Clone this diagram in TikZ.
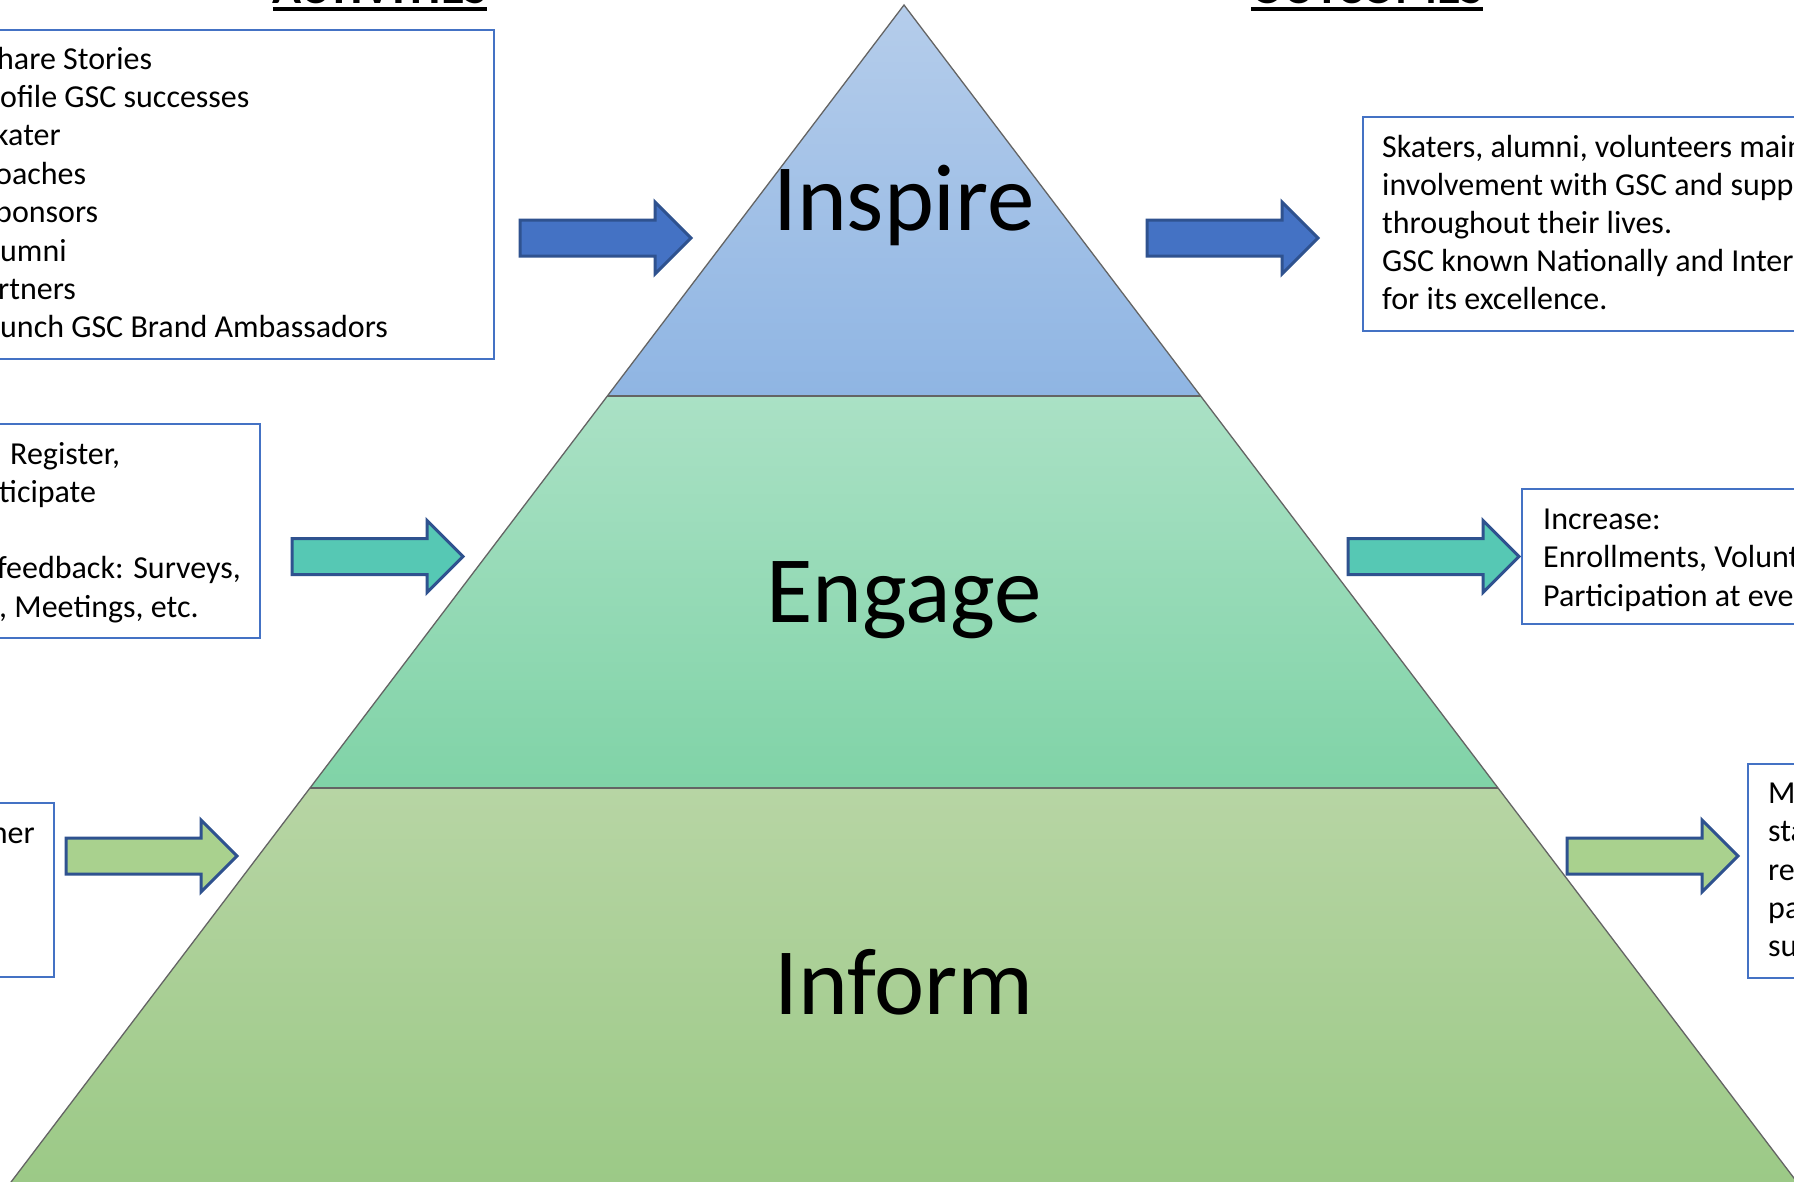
\documentclass[tikz,border=0pt]{standalone}
\usepackage{fontspec}
\setmainfont{Carlito}
\usetikzlibrary{calc}
\definecolor{inspT}{RGB}{181,205,235}
\definecolor{inspB}{RGB}{143,181,227}
\definecolor{engT}{RGB}{170,225,197}
\definecolor{engB}{RGB}{128,211,167}
\definecolor{infT}{RGB}{183,213,164}
\definecolor{infB}{RGB}{155,201,134}
\definecolor{edgegray}{RGB}{100,100,100}
\definecolor{boxblue}{RGB}{68,114,196}
\definecolor{arrblue}{RGB}{68,114,196}
\definecolor{arrteal}{RGB}{86,200,180}
\definecolor{arrgreen}{RGB}{169,209,142}
\definecolor{arredge}{RGB}{47,82,143}
\begin{document}
\begin{tikzpicture}[x=1pt,y=-1pt,
  band/.style={draw=edgegray, line width=1.3},
  txtbox/.style={draw=boxblue, line width=2},
  txtline/.style={anchor=base west, inner sep=0, font=\fontsize{32}{38}\selectfont},
  bigword/.style={anchor=base, inner sep=0, font=\fontsize{95}{110}\selectfont},
  header/.style={anchor=base, inner sep=0, font=\bfseries\fontsize{48}{56}\selectfont},
  arrowbody/.style={draw=arredge, line width=3, line join=miter},
  barrow/.pic={\path[pic actions] (0,-18) -- (135,-18) -- (135,-36) -- (171,0) -- (135,36) -- (135,18) -- (0,18) -- cycle;}
]
\useasboundingbox (0,0) rectangle (1794,1181);
\clip (0,0) rectangle (1794,1181);
\fill[white] (0,0) rectangle (1794,1181);

% pyramid
\coordinate (apex) at (904,5);
\coordinate (bl) at (5,1190);
\coordinate (br) at (1803,1190);
\coordinate (l1) at ($(apex)!0.32996!(bl)$);
\coordinate (r1) at ($(apex)!0.32996!(br)$);
\coordinate (l2) at ($(apex)!0.66076!(bl)$);
\coordinate (r2) at ($(apex)!0.66076!(br)$);
\shade[top color=infT, bottom color=infB] (l2) -- (r2) -- (br) -- (bl) -- cycle;
\shade[top color=engT, bottom color=engB] (l1) -- (r1) -- (r2) -- (l2) -- cycle;
\shade[top color=inspT, bottom color=inspB] (apex) -- (r1) -- (l1) -- cycle;
\draw[band] (bl) -- (apex) -- (br);
\draw[band] (l1) -- (r1);
\draw[band] (l2) -- (r2);

\node[bigword] (inspire) at (904,230) {Inspire};
\node[bigword] (engage) at (904,622) {Engage};
\node[bigword] (inform) at (904,1014) {Inform};

% headers
\node[header] (acts) at (380,3.5) {ACTIVITIES};
\node[header] (outs) at (1367,3.5) {OUTCOMES};
\draw[line width=4] ([yshift=-5.5pt]acts.base west) -- ([yshift=-5.5pt]acts.base east);
\draw[line width=4] ([yshift=-5.5pt]outs.base west) -- ([yshift=-5.5pt]outs.base east);

% arrows
\path pic[arrowbody, fill=arrblue] at (520,238) {barrow};
\path pic[arrowbody, fill=arrblue] at (1147,238) {barrow};
\path pic[arrowbody, fill=arrteal] at (292,556.5) {barrow};
\path pic[arrowbody, fill=arrteal] at (1348,556.5) {barrow};
\path pic[arrowbody, fill=arrgreen] at (66,856) {barrow};
\path pic[arrowbody, fill=arrgreen] at (1567,856) {barrow};

% boxes
\draw[txtbox] (-10,30) rectangle (494,359);
\draw[txtbox] (1363,117) rectangle (1810,331);
\draw[txtbox] (-10,424) rectangle (260,638);
\draw[txtbox] (1522,489) rectangle (1810,624);
\draw[txtbox] (-10,803) rectangle (54,977);
\draw[txtbox] (1748,764) rectangle (1810,978);

% top-left box text
\node[txtline] (a1) at (-3,69) {hare Stories};
\node[txtline] (a2) at (0,107.4) {ofile GSC successes};
\node[txtline] (a3) at (-6,145.8) {kater};
\node[txtline] (a4) at (-5,184.2) {oaches};
\node[txtline] (a5) at (-5,222.6) {ponsors};
\node[txtline] (a6) at (0,261) {umni};
\node[txtline] (a7) at (-2,299.4) {rtners};
\node[txtline] (a8) at (0,337.8) {unch GSC Brand Ambassadors};

% top-right box text
\node[txtline] (b1) at (1382,157) {Skaters, alumni, volunteers main};
\node[txtline] (b2) at (1382,195.2) {involvement with GSC and supp};
\node[txtline] (b3) at (1382,233.4) {throughout their lives.};
\node[txtline] (b4) at (1382,271.6) {GSC known Nationally and Inter};
\node[txtline] (b5) at (1382,309.8) {for its excellence.};

% middle-left box text
\node[txtline] (c1) at (10,464) {Register,};
\node[txtline] (c2) at (-1,502.3) {ticipate};
\node[txtline] (c3) at (-3,578.9) {feedback: Surveys,};
\node[txtline] (c4) at (-1,617.2) {, Meetings, etc.};

% middle-right box text
\node[txtline] (d1) at (1543,529.5) {Increase:};
\node[txtline] (d2) at (1543,567.8) {Enrollments, Volunt};
\node[txtline] (d3) at (1543,606.1) {Participation at eve};

% bottom-left box text
\node[txtline, anchor=base east] (e1) at (35,843) {her};

% bottom-right box text
\node[txtline] (f1) at (1768,803.3) {M};
\node[txtline] (f2) at (1768,841.7) {sta};
\node[txtline] (f3) at (1768,880.1) {re};
\node[txtline] (f4) at (1768,918.5) {pa};
\node[txtline] (f5) at (1768,956.9) {su};
\end{tikzpicture}
\end{document}
